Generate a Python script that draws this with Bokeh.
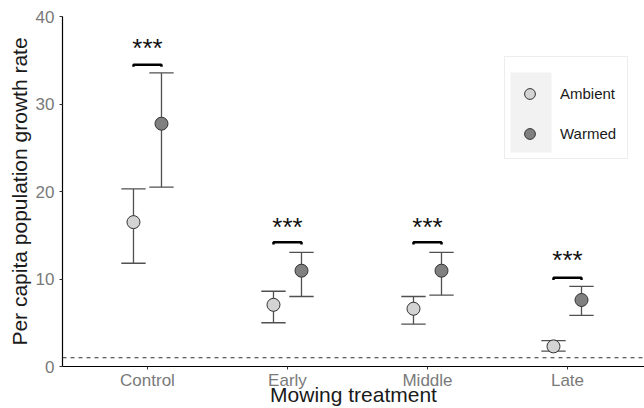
from bokeh.plotting import figure
from bokeh.models import FixedTicker, Span, Legend, LegendItem, BoxAnnotation, ColumnDataSource
from bokeh.core.properties import value
from bokeh.embed import file_html
from bokeh.resources import INLINE

# ---- data ----
categories = ["Control", "Early", "Middle", "Late"]
ambient_mean = [16.5, 7.05, 6.6, 2.3]
ambient_lower = [11.8, 5.0, 4.85, 1.75]
ambient_upper = [20.3, 8.6, 8.0, 2.95]
warmed_mean = [27.75, 10.95, 10.95, 7.6]
warmed_lower = [20.5, 8.0, 8.15, 5.85]
warmed_upper = [33.55, 13.05, 13.05, 9.15]
bracket_y = [34.5, 14.2, 14.2, 10.15]
star_y = [36.35, 16.0, 16.0, 12.15]
star_labels = ["***", "***", "***", "***"]
series_names = ["Ambient", "Warmed"]
y_ticks = [0, 10, 20, 30, 40]
reference_line = 1.0

# ---- layout helpers ----
pos = [i + 1 for i in range(len(categories))]
dodge = 0.1
cap = 0.087
tip = 0.25
x_amb = [p_ - dodge for p_ in pos]
x_warm = [p_ + dodge for p_ in pos]

FONT = "Liberation Sans"

p = figure(width=644, height=408, x_range=(0.393, 4.55), y_range=(0, 40),
           output_backend="svg", toolbar_location=None,
           min_border_left=62, min_border_right=0, min_border_top=16, min_border_bottom=42)
p.outline_line_color = None
p.xgrid.visible = False
p.ygrid.visible = False
p.background_fill_color = "white"
p.border_fill_color = "white"

# axes
p.xaxis.ticker = FixedTicker(ticks=pos)
p.xaxis.major_label_overrides = {pp: c for pp, c in zip(pos, categories)}
p.yaxis.ticker = FixedTicker(ticks=y_ticks)
for ax in (p.xaxis[0], p.yaxis[0]):
    ax.axis_line_color = "black"
    ax.axis_line_width = 1.2
    ax.major_tick_line_color = "#333333"
    ax.major_tick_out = 3
    ax.major_tick_in = 0
    ax.minor_tick_line_color = None
    ax.major_label_text_font = FONT
    ax.major_label_text_font_size = "17px"
    ax.major_label_text_color = "#7a7a7a"
    ax.axis_label_text_font = FONT
    ax.axis_label_text_font_size = "21px"
    ax.axis_label_text_font_style = "normal"
    ax.axis_label_text_color = "#1a1a1a"
p.xaxis.axis_label = "Mowing treatment"
p.yaxis.axis_label = "Per capita population growth rate"
p.xaxis.major_label_standoff = 1
p.xaxis.axis_label_standoff = -10
p.yaxis.major_label_standoff = 5
p.yaxis.axis_label_standoff = 2

# reference dashed line
p.add_layout(Span(location=reference_line, dimension="width", line_dash="4 4",
                  line_color="#333333", line_width=1))

# legend key background
p.add_layout(BoxAnnotation(left=448, right=489, top=294, bottom=214,
                           left_units="screen", right_units="screen",
                           top_units="screen", bottom_units="screen",
                           fill_color="#f2f2f2", fill_alpha=1, line_alpha=0,
                           level="underlay"))

eb_color = "#505050"
renderers = []
for xs, mean, lo, hi, fill in ((x_amb, ambient_mean, ambient_lower, ambient_upper, "#d3d3d3"),
                               (x_warm, warmed_mean, warmed_lower, warmed_upper, "#808080")):
    p.segment(x0=xs, y0=lo, x1=xs, y1=hi, line_color=eb_color, line_width=1.3)
    p.segment(x0=[x - cap for x in xs], y0=hi, x1=[x + cap for x in xs], y1=hi,
              line_color=eb_color, line_width=1.3)
    p.segment(x0=[x - cap for x in xs], y0=lo, x1=[x + cap for x in xs], y1=lo,
              line_color=eb_color, line_width=1.3)
    src = ColumnDataSource(dict(x=xs, y=mean))
    r = p.scatter(x="x", y="y", source=src, size=13, fill_color=fill,
                  line_color="#333333", line_width=1)
    renderers.append(r)

# significance brackets
bxs = [[a, a, w, w] for a, w in zip(x_amb, x_warm)]
bys = [[b - tip, b, b, b - tip] for b in bracket_y]
p.multi_line(xs=bxs, ys=bys, line_color="black", line_width=2.5)
p.text(x=pos, y=star_y, text=star_labels, text_align="center", text_baseline="alphabetic",
       text_font=value(FONT), text_font_size=value("26px"), text_color="#111111")

legend = Legend(items=[LegendItem(label=series_names[0], renderers=[renderers[0]]),
                       LegendItem(label=series_names[1], renderers=[renderers[1]])],
                location=(442, 207), title=" ", title_text_font_size="11px", title_standoff=0,
                padding=11, spacing=13, glyph_width=27, glyph_height=27, label_standoff=17,
                label_text_font=FONT, label_text_font_size="15px", label_text_color="#1a1a1a",
                border_line_color="#dcdcdc", border_line_width=1,
                background_fill_alpha=0, margin=0)
p.add_layout(legend)

open("out.html", "w").write(file_html(p, INLINE))
